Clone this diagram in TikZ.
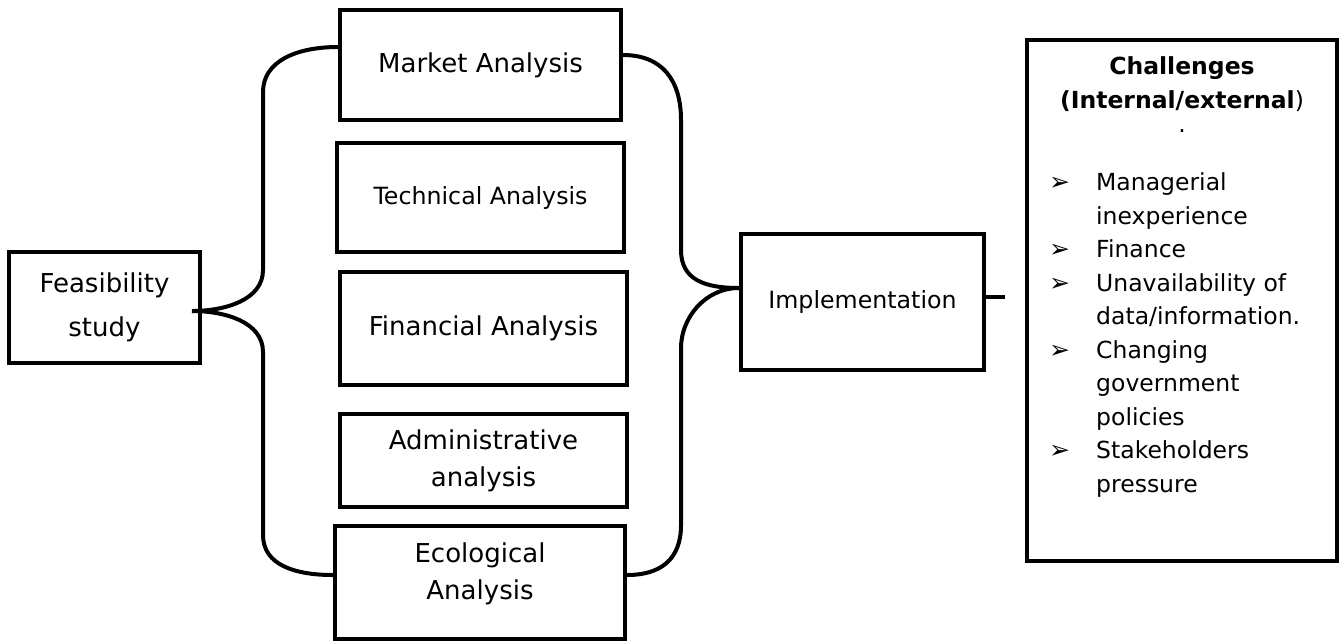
\documentclass[tikz,border=0pt]{standalone}
\usepackage{fontspec}
\setmainfont{DejaVu Sans}
\newcommand{\bigtext}{\fontsize{26}{37}\selectfont}
\newcommand{\midtext}{\fontsize{23.7}{33}\selectfont}
\newcommand{\listtext}{\fontsize{23.5}{33.5}\selectfont}
\newcommand{\arrowbullet}{{\fontsize{25}{25}\selectfont ➢}}
\begin{document}
\begin{tikzpicture}[x=1pt,y=-1pt,
  box/.style={draw, line width=4pt, inner sep=0pt, align=center},
  txt/.style={inner sep=0pt, align=center},
  link/.style={line width=4pt}]
\useasboundingbox (0,0) rectangle (1340,641);

% boxes
\node[box, minimum width=191pt, minimum height=111pt, font=\fontsize{26}{44}\selectfont] (feas) at (104.5,307.5) {Feasibility\\study};
\node[box, minimum width=281pt, minimum height=110pt, font=\bigtext] (mkt) at (480.5,65) {Market Analysis};
\node[box, minimum width=287pt, minimum height=109pt, font=\midtext] (tech) at (480.5,197.5) {Technical Analysis};
\node[box, minimum width=287pt, minimum height=113pt, font=\bigtext] (fin) at (483.5,328.5) {Financial Analysis};
\node[box, minimum width=287pt, minimum height=93pt, font=\bigtext] (adm) at (483.5,460.5) {Administrative\\analysis};
\node[box, minimum width=290pt, minimum height=113pt] (eco) at (480,582.5) {};
\node[txt, font=\bigtext] (ecotext) at (480,574) {Ecological\\Analysis};
\node[box, minimum width=243pt, minimum height=136pt, font=\midtext] (impl) at (862.5,302) {Implementation};
\node[box, minimum width=310pt, minimum height=521pt] (chal) at (1182,300.5) {};

% challenges text
\node[txt, font=\listtext\bfseries, align=center] (ctitle) at (1182,84) {Challenges\\(Internal/external\textmd{)}};
\node[txt, font=\listtext] (cdot) at (1182,131) {.};
\node[inner sep=0pt, anchor=north west, font=\listtext] (clist) at (1049,167) {%
\begin{tabular}{@{}p{47pt}@{}l@{}}
\arrowbullet & Managerial\\
 & inexperience\\
\arrowbullet & Finance\\
\arrowbullet & Unavailability of\\
 & data/information.\\
\arrowbullet & Changing\\
 & government\\
 & policies\\
\arrowbullet & Stakeholders\\
 & pressure
\end{tabular}};

% left brace
\coordinate (tipL) at (192,311);
\draw[link] ([yshift=18pt]mkt.west) .. controls (295,47) and (263,62) .. (263,92)
  -- (263,270) .. controls (263,300) and (225,311) .. (tipL);
\draw[link] (tipL) .. controls (225,311) and (263,322) .. (263,352)
  -- (263,535) .. controls (263,565) and (295,575) .. ([yshift=7.5pt]eco.west);

% right brace
\coordinate (tipR) at ([yshift=14pt]impl.west);
\draw[link] ([yshift=10pt]mkt.east) .. controls (662,55) and (681,80) .. (681,120)
  -- (681,250) .. controls (681,280) and (705,288) .. (tipR);
\draw[link] (tipR) .. controls (705,288) and (681,318) .. (681,348)
  -- (681,525) .. controls (681,560) and (660,575) .. ([yshift=7.5pt]eco.east);

% stub from implementation
\coordinate (stubend) at (1005,297);
\draw[link] (impl.east |- stubend) -- (stubend);
\end{tikzpicture}
\end{document}
